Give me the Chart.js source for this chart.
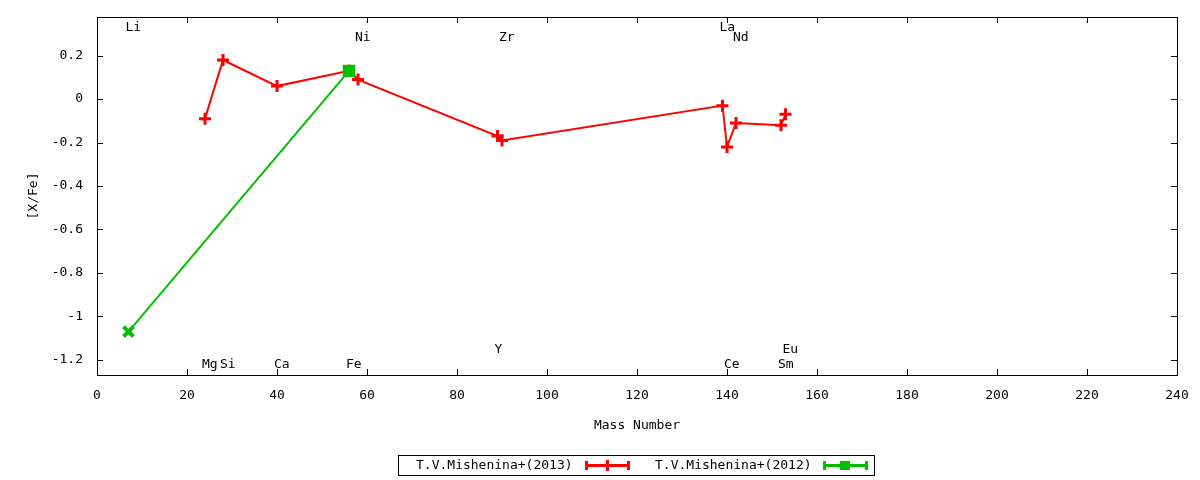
<!DOCTYPE html>
<html>
<head>
<meta charset="utf-8">
<script src="https://cdn.jsdelivr.net/npm/chart.js@4/dist/chart.umd.min.js"></script>
<style>
  body { margin: 0; background: #fff; }
  #wrap { position: relative; width: 1200px; height: 480px; }
  #legend {
    position: absolute; left: 398px; top: 455px; width: 475px; height: 19px;
    border: 1px solid #000; font: 13px "DejaVu Sans Mono", monospace; color: #000;
  }
  #legend span { position: absolute; top: 1px; white-space: nowrap; }
  #legend svg { position: absolute; top: 4px; }
</style>
</head>
<body>
<div id="wrap">
  <canvas id="abund" width="1200" height="480"></canvas>
  <div id="legend">
    <span style="left:17px">T.V.Mishenina+(2013)</span>
    <svg style="left:186px" width="45" height="11">
      <line x1="1" y1="5.5" x2="44" y2="5.5" stroke="#ff0000" stroke-width="3"/>
      <line x1="1.5" y1="1" x2="1.5" y2="10" stroke="#ff0000" stroke-width="3"/>
      <line x1="43.5" y1="1" x2="43.5" y2="10" stroke="#ff0000" stroke-width="3"/>
      <line x1="22.5" y1="0" x2="22.5" y2="11" stroke="#ff0000" stroke-width="3"/>
    </svg>
    <span style="left:256px">T.V.Mishenina+(2012)</span>
    <svg style="left:424px" width="45" height="11">
      <line x1="1" y1="5.5" x2="44" y2="5.5" stroke="#00c000" stroke-width="3"/>
      <line x1="1.5" y1="1" x2="1.5" y2="10" stroke="#00c000" stroke-width="3"/>
      <line x1="43.5" y1="1" x2="43.5" y2="10" stroke="#00c000" stroke-width="3"/>
      <rect x="17" y="1" width="10" height="9" fill="#00c000"/>
    </svg>
  </div>
</div>
<script>
// mass numbers and [X/Fe]
var mass2013 = [24, 28, 40, 56, 58, 89, 90, 139, 140, 142, 152, 153];
var xfe2013 = [-0.09, 0.18, 0.06, 0.13, 0.09, -0.17, -0.19, -0.03, -0.22, -0.11, -0.12, -0.07];
var mass2012 = [7, 56];
var xfe2012 = [-1.07, 0.13];

// element name labels (gnuplot style, alternating rows)
var elemNames = ['Li', 'Mg', 'Si', 'Ca', 'Fe', 'Ni', 'Y', 'Zr', 'La', 'Ce', 'Nd', 'Sm', 'Eu'];
var elemMass = [7, 24, 28, 40, 56, 58, 89, 90, 139, 140, 142, 152, 153];
var elemRow = [0.33, -1.22, -1.22, -1.22, -1.22, 0.285, -1.155, 0.285, 0.33, -1.22, 0.285, -1.22, -1.155];

var xTicks = [0, 20, 40, 60, 80, 100, 120, 140, 160, 180, 200, 220, 240];
var yTicks = [-1.2, -1, -0.8, -0.6, -0.4, -0.2, 0, 0.2];

var FONT = '"DejaVu Sans Mono", monospace';

function toXY(xs, ys) {
    return xs.map(function (x, i) { return {x: x, y: ys[i]}; });
}

// no label overhang padding, the layout padding decides the plot box
function noPad(s) {
    s.paddingTop = 0; s.paddingBottom = 0; s.paddingLeft = 0; s.paddingRight = 0;
}

var framePlugin = {
    id: 'frame',
    beforeDatasetsDraw: function (chart) {
        var ctx = chart.ctx, a = chart.chartArea;
        var xs = chart.scales.x, ys = chart.scales.y;
        ctx.save();
        ctx.strokeStyle = '#000';
        ctx.lineWidth = 1;
        ctx.strokeRect(a.left + 0.5, a.top + 0.5, a.right - a.left, a.bottom - a.top);
        ctx.beginPath();
        xTicks.forEach(function (v) {
            var px = Math.round(xs.getPixelForValue(v)) + 0.5;
            ctx.moveTo(px, a.bottom); ctx.lineTo(px, a.bottom - 6);
            ctx.moveTo(px, a.top); ctx.lineTo(px, a.top + 6);
        });
        yTicks.forEach(function (v) {
            var py = Math.round(ys.getPixelForValue(v)) + 0.5;
            ctx.moveTo(a.left, py); ctx.lineTo(a.left + 6, py);
            ctx.moveTo(a.right, py); ctx.lineTo(a.right - 6, py);
        });
        ctx.stroke();
        ctx.restore();
    },
    afterDatasetsDraw: function (chart) {
        var ctx = chart.ctx;
        var xs = chart.scales.x, ys = chart.scales.y;
        ctx.save();
        ctx.fillStyle = '#000';
        ctx.font = '13px ' + FONT;
        ctx.textAlign = 'left';
        ctx.textBaseline = 'middle';
        elemNames.forEach(function (n, i) {
            ctx.fillText(n, xs.getPixelForValue(elemMass[i]) - 3, ys.getPixelForValue(elemRow[i]));
        });
        ctx.restore();
    }
};

var ctx = document.getElementById('abund');
var abundChart = new Chart(ctx, {
    type: 'line',
    data: {
        datasets: [{
            label: 'T.V.Mishenina+(2013)',
            data: toXY(mass2013, xfe2013),
            borderColor: '#ff0000',
            backgroundColor: '#ff0000',
            borderWidth: 2,
            pointStyle: 'cross',
            pointRadius: 6,
            pointBorderWidth: 3,
            pointHoverRadius: 6,
            tension: 0,
            order: 1
        }, {
            label: 'T.V.Mishenina+(2012)',
            data: toXY(mass2012, xfe2012),
            borderColor: '#00c000',
            backgroundColor: '#00c000',
            borderWidth: 2,
            pointStyle: ['crossRot', 'rect'],
            pointRadius: [7, 6],
            pointBorderWidth: 4,
            pointHoverRadius: 6,
            tension: 0,
            order: 0
        }]
    },
    options: {
        responsive: false,
        animation: false,
        events: [],
        layout: { padding: { left: 0, right: 23, top: 17, bottom: 0 } },
        plugins: {
            legend: { display: false },
            tooltip: { enabled: false }
        },
        scales: {
            x: {
                type: 'linear',
                min: 0,
                max: 240,
                grid: { display: false, drawTicks: false },
                border: { display: false },
                afterFit: function (s) { s.height = 105; noPad(s); },
                afterBuildTicks: function (s) { s.ticks = xTicks.map(function (v) { return {value: v}; }); },
                ticks: {
                    padding: 13,
                    maxRotation: 0,
                    autoSkip: false,
                    color: '#000',
                    font: { family: FONT, size: 13 },
                    callback: function (v) { return String(v); }
                },
                title: {
                    display: true,
                    text: 'Mass Number',
                    color: '#000',
                    font: { family: FONT, size: 13 },
                    padding: { top: 0, bottom: 47 }
                }
            },
            y: {
                type: 'linear',
                min: -1.27,
                max: 0.378,
                grid: { display: false, drawTicks: false },
                border: { display: false },
                afterFit: function (s) { s.width = 97; noPad(s); },
                afterBuildTicks: function (s) { s.ticks = yTicks.map(function (v) { return {value: v}; }); },
                ticks: {
                    padding: 14,
                    autoSkip: false,
                    color: '#000',
                    font: { family: FONT, size: 13 },
                    callback: function (v) { return String(Math.round(v * 10) / 10); }
                },
                title: {
                    display: true,
                    text: '[X/Fe]',
                    color: '#000',
                    font: { family: FONT, size: 13 },
                    padding: { top: 26, bottom: 0 }
                }
            }
        }
    },
    plugins: [framePlugin]
});
</script>
</body>
</html>
